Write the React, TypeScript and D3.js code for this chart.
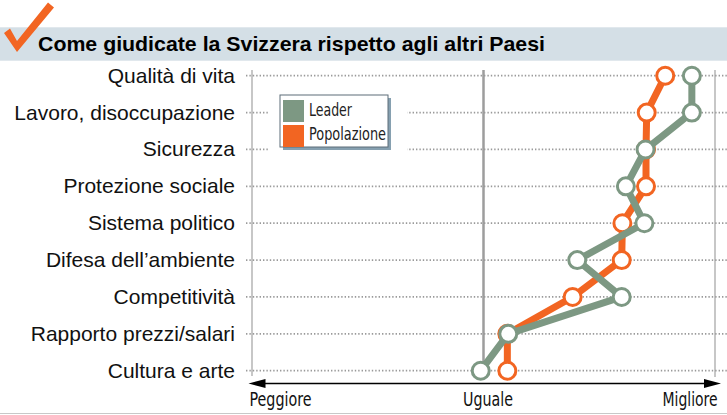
import React from 'react';
import * as d3 from 'd3';

const categories = [
  'Qualità di vita',
  'Lavoro, disoccupazione',
  'Sicurezza',
  'Protezione sociale',
  'Sistema politico',
  'Difesa dell\u2019ambiente',
  'Competitività',
  'Rapporto prezzi/salari',
  'Cultura e arte',
];
// -100 = peggiore, 0 = uguale, 100 = migliore
const leader = [90, 90, 70, 61.5, 69.5, 40.5, 59.7, 10.7, -1.2];
const popolazione = [78.5, 70.5, 70.2, 70.2, 60, 59.7, 38.5, 10.3, 10.3];
const axisLabels = ['Peggiore', 'Uguale', 'Migliore'];
const title = 'Come giudicate la Svizzera rispetto agli altri Paesi';

const GREEN = '#7d9883';
const ORANGE = '#f26522';
const W = 727;
const H = 415;

const App = () => {
  const x = d3.scaleLinear().domain([-100, 100]).range([252, 715]);
  const y = d3.scalePoint<string>().domain(categories).range([75.7, 370.7]);

  const line = d3
    .line<number>()
    .x((d) => x(d))
    .y((_, i) => y(categories[i]) as number);

  const series = [
    { name: 'Popolazione', values: popolazione, color: ORANGE },
    { name: 'Leader', values: leader, color: GREEN },
  ];

  const sans = '"Liberation Sans", Arial, sans-serif';
  const narrow = '"Liberation Sans Narrow", "DejaVu Sans Condensed", "Arial Narrow", sans-serif';
  const axisY = 383.5;

  return (
    <svg
      width={W}
      height={H}
      style={{ position: 'absolute', left: 0, top: 0, background: '#fff' }}
    >
      {/* title band */}
      <rect x={0} y={27.3} width={W} height={33.4} fill="#d4dfe6" />
      <text
        x={38}
        y={50.7}
        fontFamily={sans}
        fontWeight="bold"
        fontSize={20.5}
        fill="#000"
        textLength={507}
        lengthAdjust="spacingAndGlyphs"
      >
        {title}
      </text>
      {/* check mark */}
      <path d="M4,33 L10,28.5 L17,41 L48,2.5 L54,7.5 L17,52 Z" fill={ORANGE} />

      {/* vertical reference lines */}
      <line x1={x(-100)} x2={x(-100)} y1={70} y2={376} stroke="#b5b5b5" strokeWidth={1.5} />
      <line x1={x(100)} x2={x(100)} y1={70} y2={377} stroke="#b5b5b5" strokeWidth={1.5} />
      <line x1={x(0)} x2={x(0)} y1={70} y2={376} stroke="#9d9d9d" strokeWidth={2.5} />

      {/* dotted row lines and labels */}
      {categories.map((c) => (
        <g key={c}>
          <line
            x1={246}
            x2={W}
            y1={y(c)}
            y2={y(c)}
            stroke="#9a9a9a"
            strokeWidth={1.7}
            strokeDasharray="1.4 2"
          />
          <text
            x={235}
            y={(y(c) as number) + 7}
            textAnchor="end"
            fontFamily={sans}
            fontSize={21}
            fill="#111"
          >
            {c}
          </text>
        </g>
      ))}

      {/* legend */}
      <rect x={268} y={90} width={139} height={64} fill="#fff" />
      <rect x={283} y={98} width={108} height={52} fill="#86a0b0" />
      <rect x={280} y={95} width={108} height={52} fill="#fff" stroke="#5d6d78" strokeWidth={1} />
      <rect x={283} y={100} width={21} height={22} fill={GREEN} />
      <rect x={283} y={125} width={21} height={22} fill={ORANGE} />
      <text x={309} y={116} fontFamily={narrow} fontSize={17} fill="#222" textLength={43} lengthAdjust="spacingAndGlyphs">
        Leader
      </text>
      <text x={309} y={140} fontFamily={narrow} fontSize={17} fill="#222" textLength={77} lengthAdjust="spacingAndGlyphs">
        Popolazione
      </text>

      {/* series */}
      {series.map((s) => (
        <g key={s.name}>
          <path d={line(s.values) as string} fill="none" stroke={s.color} strokeWidth={7} strokeLinejoin="round" />
          {s.values.map((v, i) => (
            <circle
              key={i}
              cx={x(v)}
              cy={y(categories[i])}
              r={8.5}
              fill="#fff"
              stroke={s.color}
              strokeWidth={3}
            />
          ))}
        </g>
      ))}

      {/* axis arrow */}
      <line x1={262} x2={708} y1={axisY} y2={axisY} stroke="#000" strokeWidth={1.5} />
      <path d={`M248.5,${axisY} L265.5,${axisY - 4.5} L265.5,${axisY + 4.5} Z`} fill="#000" />
      <path d={`M721,${axisY} L704,${axisY - 4.5} L704,${axisY + 4.5} Z`} fill="#000" />
      <text x={249.5} y={405.5} fontFamily={narrow} fontSize={19} fill="#111" textLength={62} lengthAdjust="spacingAndGlyphs">
        {axisLabels[0]}
      </text>
      <text x={463} y={405.5} fontFamily={narrow} fontSize={19} fill="#111" textLength={50} lengthAdjust="spacingAndGlyphs">
        {axisLabels[1]}
      </text>
      <text x={662.5} y={405.5} fontFamily={narrow} fontSize={19} fill="#111" textLength={55} lengthAdjust="spacingAndGlyphs">
        {axisLabels[2]}
      </text>

      {/* bottom rule */}
      <line x1={0} x2={W} y1={413.5} y2={413.5} stroke="#c8c8c8" strokeWidth={1} />
    </svg>
  );
};

export default App;
